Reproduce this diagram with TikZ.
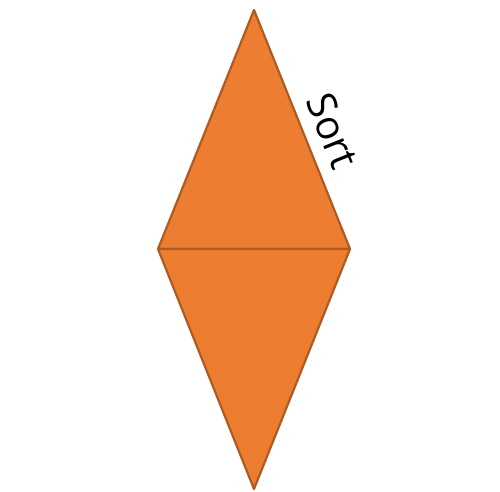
\documentclass[tikz,border=0pt]{standalone}
\usepackage{fontspec}
\setmainfont{Open Sans}
\definecolor{fillorange}{HTML}{ED7D31}
\definecolor{edgeorange}{HTML}{AE5A21}
\tikzset{tri/.style={fill=fillorange,draw=edgeorange,line width=2.2pt,line join=round}}
\begin{document}
\begin{tikzpicture}[x=1pt,y=-1pt]
\useasboundingbox (0,0) rectangle (500,491);
\coordinate (top) at (254,10);
\coordinate (left) at (158,249);
\coordinate (right) at (350,249);
\coordinate (bottom) at (254,489);
\draw[tri] (top) -- (right) -- (left) -- cycle;
\draw[tri] (left) -- (right) -- (bottom) -- cycle;
\node[rotate=-68,font=\fontsize{40}{46}\selectfont,inner sep=0pt] (lab) at (333,131) {Sort};
\end{tikzpicture}
\end{document}
